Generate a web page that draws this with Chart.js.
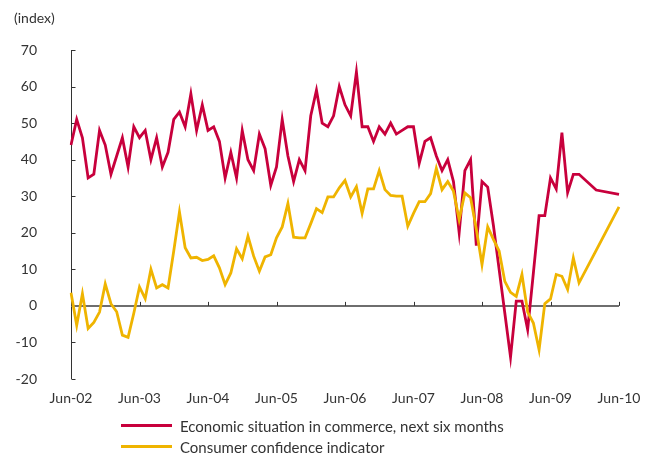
<!DOCTYPE html>
<html>
<head>
<meta charset="utf-8">
<script src="https://cdn.jsdelivr.net/npm/chart.js@4/dist/chart.umd.min.js"></script>
<style>
  body { margin: 0; background: #fff; }
  #wrap { position: relative; width: 656px; height: 456px; font-family: Lato, sans-serif; color: #333; }
  #unit { position: absolute; left: 14px; top: 9px; font-size: 14px; }
  #legend { position: absolute; left: 121px; top: 415px; font-size: 15px; }
  .item { display: flex; align-items: center; height: 21px; }
  .swatch { width: 51px; height: 3px; margin-right: 8px; }
</style>
</head>
<body>
<div id="wrap">
  <canvas id="chart" width="656" height="456"></canvas>
  <div id="unit">(index)</div>
  <div id="legend"></div>
</div>
<script>
// tick labels, one every 12 months
const yearLabels = ['Jun-02', 'Jun-03', 'Jun-04', 'Jun-05', 'Jun-06', 'Jun-07', 'Jun-08', 'Jun-09', 'Jun-10']

// monthly values Jun-02 .. Jun-10 (null = no reading, line spans it)
const commerce = [
  44, 51, 46, 35, 36, 48, 44, 36, 41, 46, 38, 49,
  46, 48, 40, 46, 38, 42, 51, 53, 49, 58, 48, 55,
  48, 49, 45, 35, 42, 35, 48, 40, 37, 47, 43, 33,
  38, 51, 41, 34, 40, 37, 52, 59, 50, 49, 52, 60,
  55, 52, 64, 49, 49, 45, 49, 47, 50, 47, 48, 49,
  49, 39, 45, 46, 41, 37, 40, 34, 20, 37, 40, 16.5,
  34, 32.5, 22, 10, -2, -14, 1.3, 1.3, -6.5, 9, 24.7, 24.7,
  35, 32, 47.4, 31, 36, 36, null, null, 31.7, null, null, null,
  30.5
]
const consumer = [
  3.6, -5.3, 3.3, -6.2, -4.5, -1.7, 6, 0.6, -1.6, -8, -8.6, -2,
  5.2, 2, 10, 4.9, 5.8, 4.9, 15, 25.7, 15.9, 13.1, 13.3, 12.4,
  12.7, 13.7, 10.4, 5.8, 9, 15.6, 12.9, 19.1, 13.6, 9.5, 13.4, 14,
  18.6, 21.6, 28, 18.8, 18.6, 18.6, 22.5, 26.6, 25.5, 29.8, 29.8, 32.3,
  34.3, 29.8, 32.6, 25.3, 32, 32, 37, 31.8, 30.2, 30, 30, 21.8,
  25.3, 28.5, 28.5, 30.7, 37.6, 31.8, 34, 31.4, 23.6, 30.9, 29.6, 21,
  11.3, 21.6, 18.2, 15, 6.7, 3.7, 2.6, 8.6, -1.7, -4.7, -12, 0.6,
  1.9, 8.6, 8.1, 4.5, 13.1, 6.3, null, null, 15.2, null, null, null,
  27.1
]

const seriesNames = ['Economic situation in commerce, next six months', 'Consumer confidence indicator']
const seriesColors = ['#c8003c', '#efb400']

const labels = commerce.map((v, i) => i % 12 === 0 ? yearLabels[i / 12] : '')

// y axis with inward ticks, zero line with year ticks
const axisMarks = {
    id: 'axisMarks',
    beforeDatasetsDraw(chart) {
        const { ctx, chartArea, scales: { x, y } } = chart
        ctx.save()
        const x0 = Math.round(chartArea.left) + 0.5
        ctx.strokeStyle = '#333'
        ctx.lineWidth = 1
        ctx.beginPath()
        ctx.moveTo(x0, chartArea.top)
        ctx.lineTo(x0, chartArea.bottom)
        y.ticks.forEach(t => {
            const py = Math.round(y.getPixelForValue(t.value)) + 0.5
            ctx.moveTo(x0, py)
            ctx.lineTo(x0 + 4, py)
        })
        ctx.stroke()

        const y0 = y.getPixelForValue(0)
        ctx.strokeStyle = '#6e6e6e'
        ctx.lineWidth = 2
        ctx.beginPath()
        ctx.moveTo(chartArea.left, y0)
        ctx.lineTo(chartArea.right, y0)
        ctx.stroke()

        ctx.strokeStyle = '#333'
        ctx.lineWidth = 1
        ctx.beginPath()
        yearLabels.forEach((l, i) => {
            const px = Math.round(x.getPixelForValue(i * 12)) + 0.5
            ctx.moveTo(px, y0)
            ctx.lineTo(px, y0 - 4)
        })
        ctx.stroke()
        ctx.restore()
    }
}

new Chart(document.getElementById('chart'), {
    type: 'line',
    data: {
        labels,
        datasets: [
            { label: seriesNames[0], data: commerce, borderColor: seriesColors[0], order: 1 },
            { label: seriesNames[1], data: consumer, borderColor: seriesColors[1], order: 0 }
        ]
    },
    options: {
        responsive: false,
        animation: false,
        spanGaps: true,
        elements: {
            line: { borderWidth: 2.8, tension: 0, borderJoinStyle: 'miter', fill: false },
            point: { radius: 0 }
        },
        layout: { padding: { top: 50, right: 37, left: 0, bottom: 0 } },
        plugins: { legend: { display: false }, tooltip: { enabled: false } },
        scales: {
            x: {
                offset: false,
                grid: { display: false, drawTicks: false },
                border: { display: false },
                ticks: {
                    autoSkip: false, maxRotation: 0, padding: 11,
                    color: '#333', font: { family: 'Lato', size: 14 },
                    callback: (v, i) => labels[i] === '' ? null : labels[i]
                },
                afterFit: s => { s.height = 77 }
            },
            y: {
                min: -20, max: 70,
                grid: { display: false, drawTicks: false },
                border: { display: false },
                ticks: { stepSize: 10, padding: 34, color: '#333', font: { family: 'Lato', size: 14 } },
                afterFit: s => { s.width = 71 }
            }
        }
    },
    plugins: [axisMarks]
})

legend.innerHTML = seriesNames.map((n, i) =>
    '<div class="item"><span class="swatch" style="background:' + seriesColors[i] + '"></span>' + n + '</div>'
).join('')
</script>
</body>
</html>
